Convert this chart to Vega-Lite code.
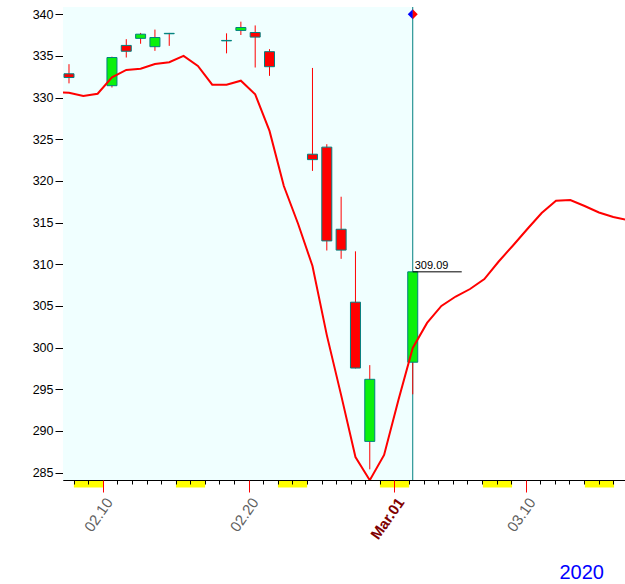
{
  "$schema": "https://vega.github.io/schema/vega-lite/v6.json",
  "width": 562,
  "height": 473,
  "autosize": "none",
  "padding": {"left": 63, "top": 7, "right": 0, "bottom": 104},
  "background": "white",
  "config": {
    "view": {"stroke": null},
    "axis": {"grid": false},
    "axisY": {"labelFont": "Liberation Sans", "labelFontSize": 12.5, "labelColor": "#000000", "tickColor": "#000000", "domainColor": "#000000", "tickSize": 8, "labelPadding": 2}
  },
  "title": {"text": "2020", "orient": "bottom", "anchor": "end", "frame": "group", "color": "#0000ff", "fontSize": 20, "font": "Liberation Sans", "fontWeight": "normal", "offset": 21, "dx": -21},
  "datasets": {
    "candles": [
      {"date": "2020-02-07", "open": 332.85, "high": 334.0, "low": 331.7, "close": 332.4},
      {"date": "2020-02-10", "open": 331.42, "high": 334.9, "low": 331.2, "close": 334.8},
      {"date": "2020-02-11", "open": 336.25, "high": 337.0, "low": 334.8, "close": 335.55},
      {"date": "2020-02-12", "open": 337.1, "high": 337.75, "low": 336.45, "close": 337.6},
      {"date": "2020-02-13", "open": 336.1, "high": 338.15, "low": 335.6, "close": 337.2},
      {"date": "2020-02-14", "open": 337.65, "high": 337.75, "low": 336.2, "close": 337.7},
      {"date": "2020-02-18", "open": 336.8, "high": 337.7, "low": 335.3, "close": 336.85},
      {"date": "2020-02-19", "open": 338.05, "high": 339.1, "low": 337.5, "close": 338.4},
      {"date": "2020-02-20", "open": 337.8, "high": 338.65, "low": 333.6, "close": 337.25},
      {"date": "2020-02-21", "open": 335.5, "high": 335.8, "low": 332.6, "close": 333.7},
      {"date": "2020-02-24", "open": 323.2, "high": 333.55, "low": 321.2, "close": 322.55},
      {"date": "2020-02-25", "open": 324.05, "high": 324.4, "low": 311.65, "close": 312.8},
      {"date": "2020-02-26", "open": 314.2, "high": 318.1, "low": 310.65, "close": 311.7},
      {"date": "2020-02-27", "open": 305.45, "high": 311.55, "low": 297.5, "close": 297.55},
      {"date": "2020-02-28", "open": 288.75, "high": 297.9, "low": 285.4, "close": 296.2},
      {"date": "2020-03-02", "open": 298.25, "high": 309.16, "low": 294.4, "close": 309.09}
    ],
    "ma": [
      {"date": "2020-02-06", "ma": 330.65},
      {"date": "2020-02-07", "ma": 330.57},
      {"date": "2020-02-08", "ma": 330.19},
      {"date": "2020-02-09", "ma": 330.46},
      {"date": "2020-02-10", "ma": 332.43},
      {"date": "2020-02-11", "ma": 333.31},
      {"date": "2020-02-12", "ma": 333.46},
      {"date": "2020-02-13", "ma": 334.03},
      {"date": "2020-02-14", "ma": 334.23},
      {"date": "2020-02-15", "ma": 334.99},
      {"date": "2020-02-16", "ma": 333.79},
      {"date": "2020-02-17", "ma": 331.54},
      {"date": "2020-02-18", "ma": 331.54},
      {"date": "2020-02-19", "ma": 332.02},
      {"date": "2020-02-20", "ma": 330.39},
      {"date": "2020-02-21", "ma": 326.0},
      {"date": "2020-02-22", "ma": 319.39},
      {"date": "2020-02-23", "ma": 314.83},
      {"date": "2020-02-24", "ma": 309.79},
      {"date": "2020-02-25", "ma": 301.5},
      {"date": "2020-02-26", "ma": 294.3},
      {"date": "2020-02-27", "ma": 286.88},
      {"date": "2020-02-28", "ma": 284.1},
      {"date": "2020-02-29", "ma": 287.12},
      {"date": "2020-03-01", "ma": 293.72},
      {"date": "2020-03-02", "ma": 299.96},
      {"date": "2020-03-03", "ma": 302.96},
      {"date": "2020-03-04", "ma": 305.0},
      {"date": "2020-03-05", "ma": 306.13},
      {"date": "2020-03-06", "ma": 307.03},
      {"date": "2020-03-07", "ma": 308.23},
      {"date": "2020-03-08", "ma": 310.33},
      {"date": "2020-03-09", "ma": 312.25},
      {"date": "2020-03-10", "ma": 314.23},
      {"date": "2020-03-11", "ma": 316.15},
      {"date": "2020-03-12", "ma": 317.63},
      {"date": "2020-03-13", "ma": 317.71},
      {"date": "2020-03-14", "ma": 316.99},
      {"date": "2020-03-15", "ma": 316.21},
      {"date": "2020-03-16", "ma": 315.67},
      {"date": "2020-03-17", "ma": 315.31}
    ]
  },
  "layer": [
    {
      "data": {"name": "ma"},
      "mark": {"type": "rule", "opacity": 0},
      "encoding": {
        "x": {"field": "date", "type": "temporal",
          "scale": {"type": "utc", "domain": [{"year": 2020, "month": 2, "date": 7, "hours": 6, "minutes": 27, "utc": true}, {"year": 2020, "month": 3, "date": 16, "hours": 19, "minutes": 22, "utc": true}]},
          "axis": {"orient": "bottom", "title": null, "labels": false, "domain": false, "tickColor": "#ffff00", "tickWidth": 29.2, "tickSize": 7, "zindex": 0,
            "values": [{"year": 2020, "month": 2, "date": 9, "utc": true}, {"year": 2020, "month": 2, "date": 16, "utc": true}, {"year": 2020, "month": 2, "date": 23, "utc": true}, {"year": 2020, "month": 3, "date": 1, "utc": true}, {"year": 2020, "month": 3, "date": 8, "utc": true}, {"year": 2020, "month": 3, "date": 15, "utc": true}]}}
      }
    },
    {
      "data": {"name": "ma"},
      "mark": {"type": "rule", "opacity": 0},
      "encoding": {
        "x": {"field": "date", "type": "temporal",
          "scale": {"type": "utc", "domain": [{"year": 2020, "month": 2, "date": 7, "hours": 6, "minutes": 27, "utc": true}, {"year": 2020, "month": 3, "date": 16, "hours": 19, "minutes": 22, "utc": true}]},
          "axis": {"orient": "bottom", "title": null, "labels": false, "domain": true, "domainColor": "#000000", "tickColor": "#000000", "tickSize": 4, "tickWidth": 1, "zindex": 1,
            "tickCount": {"interval": "day", "step": 1}}}
      }
    },
    {
      "data": {"name": "ma"},
      "mark": {"type": "rule", "opacity": 0},
      "encoding": {
        "x": {"field": "date", "type": "temporal",
          "scale": {"type": "utc", "domain": [{"year": 2020, "month": 2, "date": 7, "hours": 6, "minutes": 27, "utc": true}, {"year": 2020, "month": 3, "date": 16, "hours": 19, "minutes": 22, "utc": true}]},
          "axis": {"orient": "bottom", "title": null, "domain": false, "tickColor": "#ff0000", "tickSize": 12, "tickWidth": 1, "zindex": 2,
            "values": [{"year": 2020, "month": 2, "date": 10, "utc": true}, {"year": 2020, "month": 2, "date": 20, "utc": true}, {"year": 2020, "month": 3, "date": 1, "utc": true}, {"year": 2020, "month": 3, "date": 10, "utc": true}],
            "labelExpr": "utcdate(datum.value) == 1 ? utcFormat(datum.value, '%b.%d') : utcFormat(datum.value, '%m.%d')",
            "labelAngle": -55, "labelAlign": "right", "labelBaseline": "middle", "labelPadding": 7, "labelOffset": 6,
            "labelFont": "Liberation Sans", "labelFontSize": 15, "labelOverlap": false, "labelFlush": false, "labelBound": false,
            "labelColor": {"condition": {"test": "utcdate(datum.value) == 1", "value": "#800000"}, "value": "#606060"},
            "labelFontWeight": {"condition": {"test": "utcdate(datum.value) == 1", "value": "bold"}, "value": "normal"}}}
      }
    },
    {
      "layer": [
        {
          "data": {"values": [{"from": "2020-02-06", "to": "2020-03-02"}]},
          "mark": {"type": "rect", "color": "#f0ffff", "clip": true},
          "encoding": {
            "x": {"field": "from", "type": "temporal", "axis": null, "scale": {"type": "utc", "domain": [{"year": 2020, "month": 2, "date": 6, "hours": 22, "minutes": 21, "utc": true}, {"year": 2020, "month": 3, "date": 16, "hours": 11, "minutes": 16, "utc": true}]}},
            "x2": {"field": "to"}
          }
        },
        {
          "data": {"name": "candles"},
          "transform": [{"filter": {"field": "close", "equal": 309.09}}],
          "mark": {"type": "rule", "color": "#008080", "strokeWidth": 1},
          "encoding": {
            "x": {"field": "date", "type": "temporal", "axis": null}
          }
        },
        {
          "data": {"name": "candles"},
          "mark": {"type": "rule", "color": "#ff0000", "strokeWidth": 1},
          "encoding": {
            "x": {"field": "date", "type": "temporal", "axis": null},
            "y": {"field": "low", "type": "quantitative", "title": null,
              "scale": {"domain": [284.12, 340.86], "nice": false, "zero": false},
              "axis": {"values": [285, 290, 295, 300, 305, 310, 315, 320, 325, 330, 335, 340]}},
            "y2": {"field": "high"}
          }
        },
        {
          "data": {"name": "candles"},
          "mark": {"type": "bar", "size": 10, "stroke": "#008080", "strokeWidth": 1},
          "encoding": {
            "x": {"field": "date", "type": "temporal", "axis": null},
            "y": {"field": "open", "type": "quantitative", "title": null},
            "y2": {"field": "close"},
            "color": {"condition": {"test": "datum.close >= datum.open", "value": "#0cf00c"}, "value": "#ff0000"}
          }
        },
        {
          "data": {"name": "ma"},
          "mark": {"type": "line", "color": "#ff0000", "strokeWidth": 2, "clip": true},
          "encoding": {
            "x": {"field": "date", "type": "temporal", "axis": null},
            "y": {"field": "ma", "type": "quantitative", "title": null}
          }
        },
        {
          "data": {"name": "candles"},
          "transform": [{"filter": {"field": "close", "equal": 309.09}}],
          "mark": {"type": "rule", "color": "#000000", "strokeWidth": 1, "x2Offset": 49},
          "encoding": {
            "x": {"field": "date", "type": "temporal", "axis": null},
            "x2": {"field": "date"},
            "y": {"field": "close", "type": "quantitative", "title": null}
          }
        },
        {
          "data": {"name": "candles"},
          "transform": [{"filter": {"field": "close", "equal": 309.09}}],
          "mark": {"type": "text", "align": "left", "baseline": "bottom", "dx": 2, "dy": -1, "font": "Liberation Sans", "fontSize": 11, "color": "#000000"},
          "encoding": {
            "x": {"field": "date", "type": "temporal", "axis": null},
            "y": {"field": "close", "type": "quantitative", "title": null},
            "text": {"field": "close", "type": "quantitative", "format": ".2f"}
          }
        },
        {
          "data": {"name": "candles"},
          "transform": [{"filter": {"field": "close", "equal": 309.09}}],
          "mark": {"type": "point", "shape": "M0,-1L-1,0L0,1Z", "filled": true, "color": "#0000ff", "size": 100, "opacity": 1},
          "encoding": {
            "x": {"field": "date", "type": "temporal", "axis": null},
            "y": {"datum": 340, "type": "quantitative", "title": null}
          }
        },
        {
          "data": {"name": "candles"},
          "transform": [{"filter": {"field": "close", "equal": 309.09}}],
          "mark": {"type": "point", "shape": "M0,-1L1,0L0,1Z", "filled": true, "color": "#ff0000", "size": 100, "opacity": 1},
          "encoding": {
            "x": {"field": "date", "type": "temporal", "axis": null},
            "y": {"datum": 340, "type": "quantitative", "title": null}
          }
        }
      ]
    }
  ],
  "resolve": {"scale": {"x": "independent"}, "axis": {"x": "independent"}}
}
